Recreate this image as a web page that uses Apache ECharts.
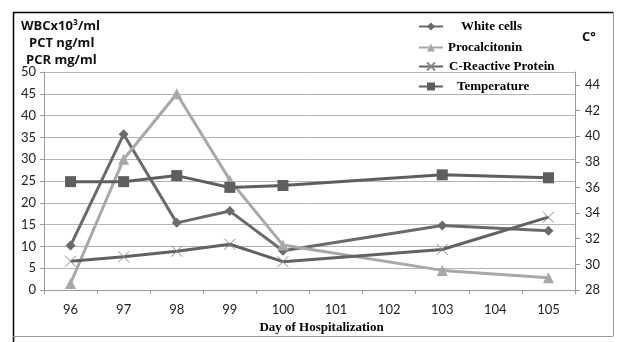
<!DOCTYPE html>
<html><head><meta charset="utf-8">
<script src="https://cdn.jsdelivr.net/npm/echarts@6/dist/echarts.min.js"></script>
<style>html,body{margin:0;padding:0;background:#fff;}#c{width:624px;height:342px;}</style>
</head><body><div id="c"></div>
<script>
const days = ['96','97','98','99','100','101','102','103','104','105'];
const leftTicks = [0,5,10,15,20,25,30,35,40,45,50];
const rightTicks = [28,30,32,34,36,38,40,42,44];
const whiteCells = [10.2, 35.7, 15.4, 18.1, 9.0, null, null, 14.8, null, 13.6];
const procalcitonin = [1.5, 30.0, 45.0, 25.2, 10.3, null, null, 4.5, null, 2.8];
const crp = [6.6, 7.6, 8.9, 10.5, 6.5, null, null, 9.3, null, 16.7];
const temperature = [36.45, 36.45, 36.92, 36.0, 36.15, null, null, 36.98, null, 36.75];
const names = ['White cells','Procalcitonin','C-Reactive Protein','Temperature'];

const chart = echarts.init(document.getElementById('c'), null, {renderer:'canvas'});
const lab = {fontFamily:'Lato', fontSize:13, color:'#222'};
const legTxt = {fontFamily:'Liberation Serif', fontWeight:'bold', fontSize:13, color:'#000'};
function leg(name, left, top, gap){
  return {data:[name], left:left, top:top, itemWidth:24, itemHeight:10, itemGap:0,
    textStyle:Object.assign({padding:[0,0,0,gap]}, legTxt), selectedMode:false, padding:0};
}
chart.setOption({
  animation:false,
  backgroundColor:'#fff',
  grid:{left:44, right:49, top:72, bottom:52},
  legend:[leg(names[0],418,20,13), leg(names[1],418,41,0), leg(names[2],418,60,1), leg(names[3],418,80,9)],
  xAxis:{type:'category', data:days, boundaryGap:true,
    axisLine:{lineStyle:{color:'#9a9a9a', width:1}},
    axisTick:{show:true, length:4, lineStyle:{color:'#9a9a9a'}},
    axisLabel:Object.assign({margin:13}, lab),
    name:'Day of Hospitalization', nameLocation:'middle', nameGap:27,
    nameTextStyle:{fontFamily:'Liberation Serif', fontWeight:'bold', fontSize:13, color:'#000', padding:[0,0,0,24]}
  },
  yAxis:[
    {type:'value', min:leftTicks[0], max:leftTicks[leftTicks.length-1], interval:5, position:'left',
     axisLine:{show:true, lineStyle:{color:'#9a9a9a'}},
     axisTick:{show:true, length:4, lineStyle:{color:'#9a9a9a'}},
     splitLine:{show:true, lineStyle:{color:'#b4b4b4', width:1}},
     axisLabel:Object.assign({margin:8}, lab)},
    {type:'value', min:rightTicks[0], max:45, interval:2, position:'right',
     axisLine:{show:true, lineStyle:{color:'#9a9a9a'}},
     axisTick:{show:true, length:5, lineStyle:{color:'#9a9a9a'}},
     splitLine:{show:false},
     axisLabel:Object.assign({margin:10, showMaxLabel:false}, lab)}
  ],
  graphic:[
    {type:'line', shape:{x1:13.5,y1:12.5,x2:613,y2:12.5}, style:{stroke:'#000', lineWidth:1.5}, z:100},
    {type:'line', shape:{x1:13.5,y1:12,x2:13.5,y2:342}, style:{stroke:'#000', lineWidth:1.5}, z:100},
    {type:'line', shape:{x1:613.5,y1:12,x2:613.5,y2:336}, style:{stroke:'#999', lineWidth:1}, z:100},
    {type:'line', shape:{x1:13,y1:336.5,x2:613,y2:336.5}, style:{stroke:'#999', lineWidth:1}, z:100},
    {type:'text', left:21, top:20, style:{text:'WBCx10³/ml', font:'bold 13px "Open Sans"', fill:'#111'}},
    {type:'text', left:29, top:37, style:{text:'PCT ng/ml', font:'bold 13px "Open Sans"', fill:'#111'}},
    {type:'text', left:26, top:54, style:{text:'PCR mg/ml', font:'bold 13px "Open Sans"', fill:'#111'}},
    {type:'text', left:582, top:31, style:{text:'C°', font:'bold 13px "Open Sans"', fill:'#111'}}
  ],
  series:[
    {name:names[0], type:'line', data:whiteCells, connectNulls:true, yAxisIndex:0,
     symbol:'diamond', symbolSize:10, lineStyle:{width:3, color:'#6a6a6a'}, itemStyle:{color:'#6a6a6a'}},
    {name:names[1], type:'line', data:procalcitonin, connectNulls:true, yAxisIndex:0,
     symbol:'triangle', symbolSize:11, lineStyle:{width:3, color:'#a8a8a8'}, itemStyle:{color:'#a8a8a8'}},
    {name:names[2], type:'line', data:crp, connectNulls:true, yAxisIndex:0,
     symbol:'path://M0,0L10,10M10,0L0,10', symbolSize:11, lineStyle:{width:3, color:'#626262'},
     itemStyle:{color:'none', borderColor:'#888', borderWidth:1}},
    {name:names[3], type:'line', data:temperature, connectNulls:true, yAxisIndex:1,
     symbol:'rect', symbolSize:11, lineStyle:{width:3, color:'#5e5e5e'}, itemStyle:{color:'#5e5e5e'}}
  ]
});
</script></body></html>
